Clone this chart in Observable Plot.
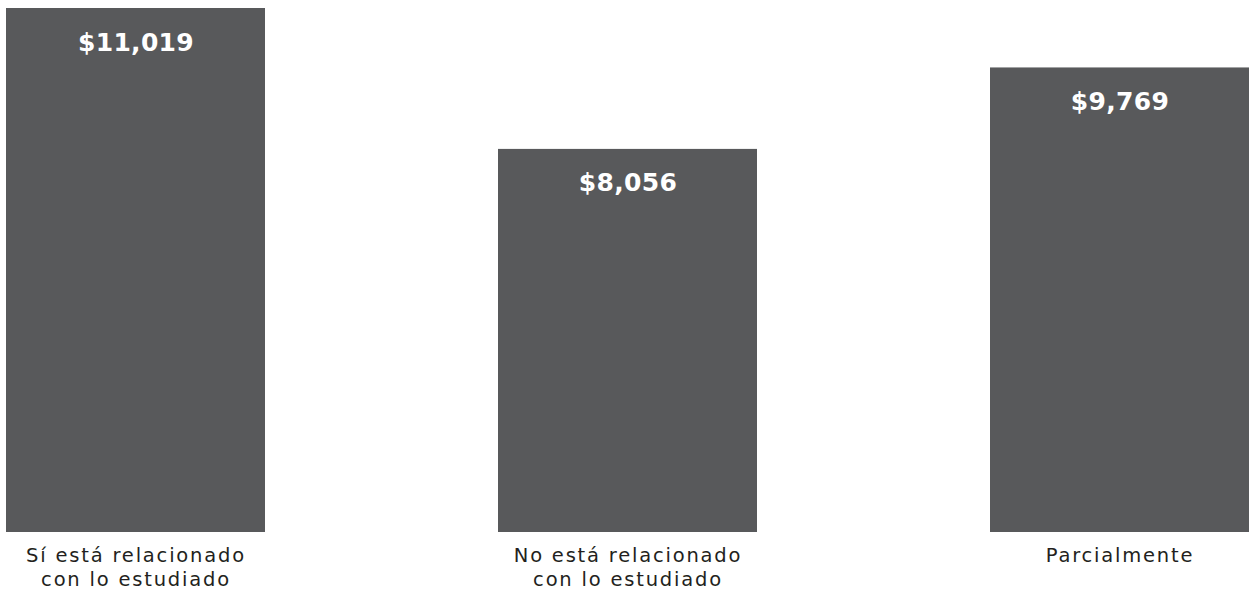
<!DOCTYPE html>
<html>
<head>
<meta charset="utf-8">
<script src="https://cdn.jsdelivr.net/npm/d3@7"></script>
<script src="https://cdn.jsdelivr.net/npm/@observablehq/plot@0.6"></script>
<style>
  html, body { margin: 0; padding: 0; background: #fff; }
  #chart svg { display: block; }
  #chart g[aria-label="x-axis tick label"] text { letter-spacing: 1.8px; }
  #chart g[aria-label="text"] text { letter-spacing: 0.3px; }
</style>
</head>
<body>
<div id="chart"></div>
<script>
const categories = ["Sí está relacionado\ncon lo estudiado", "No está relacionado\ncon lo estudiado", "Parcialmente"];
const values = [11019, 8056, 9769];
const valueLabels = ["$11,019", "$8,056", "$9,769"];

const data = categories.map((c, i) => ({category: c, value: values[i], label: valueLabels[i]}));

const chart = Plot.plot({
  width: 1249,
  height: 602,
  marginLeft: 6,
  marginRight: 0,
  marginTop: 8,
  marginBottom: 70,
  style: {fontFamily: "'DejaVu Sans', sans-serif", background: "#fff"},
  x: {domain: categories, paddingInner: 0.4736, paddingOuter: 0, label: null},
  y: {domain: [0, 11019], axis: null},
  marks: [
    Plot.barY(data, {x: "category", y: "value", fill: "#58595b"}),
    Plot.text(data, {x: "category", y: "value", text: "label", dy: 34, fill: "#fff", fontSize: 25, fontWeight: "bold", lineAnchor: "middle"}),
    Plot.axisX({tickSize: 0, tickPadding: 13, fontSize: 19.5, fill: "#231f20", lineHeight: 1.2, label: null})
  ]
});
document.getElementById("chart").appendChild(chart);
</script>
</body>
</html>
